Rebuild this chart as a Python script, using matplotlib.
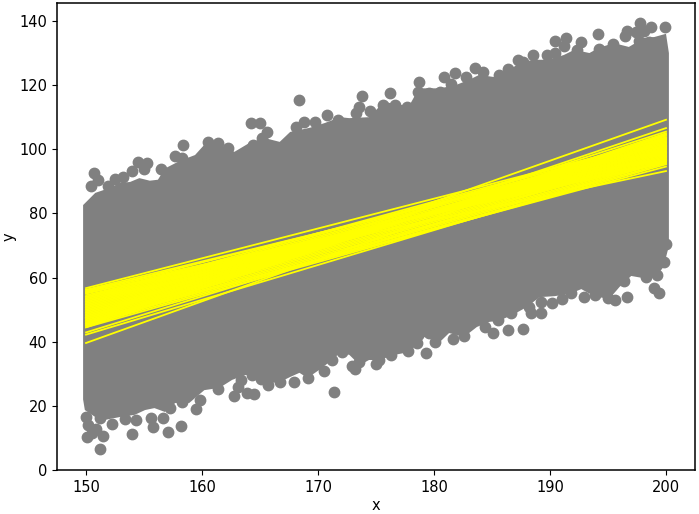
import matplotlib
matplotlib.use("Agg")
from matplotlib import pyplot as plt

# outermost points along the top of the cloud
top_x = [150.4, 150.7, 151.0, 151.9, 152.5, 153.2, 154.0, 154.5, 155.0, 155.3, 156.5, 157.7, 158.3, 158.4,
         160.5, 161.4, 162.2, 164.2, 164.4, 165.0, 165.2, 165.6, 168.1, 168.4, 168.8, 169.7, 170.8, 171.7,
         173.3, 173.5, 173.8, 174.5, 175.6, 176.2, 176.6, 177.7, 178.6, 178.7, 179.6, 180.5, 180.9, 181.5,
         181.8, 182.8, 183.5, 184.2, 185.6, 186.4, 187.2, 187.7, 188.5, 189.7, 190.4, 190.4, 191.2, 191.4,
         192.3, 192.7, 194.1, 194.2, 195.4, 196.5, 196.6, 197.4, 197.7, 197.8, 198.1, 198.5, 198.7, 199.9]
top_y = [88.6, 92.6, 90.4, 88.6, 90.7, 91.4, 93.2, 96.0, 93.9, 95.7, 93.9, 97.9, 97.3, 101.3,
         102.3, 102.0, 100.4, 108.2, 101.3, 108.2, 103.5, 105.4, 107.0, 115.4, 108.5, 108.5, 110.7, 109.1,
         111.3, 113.2, 116.6, 111.9, 113.8, 117.6, 113.8, 113.2, 117.9, 121.0, 117.6, 117.9, 122.5, 120.4,
         123.8, 122.5, 125.4, 124.1, 123.2, 125.0, 127.8, 127.2, 129.4, 129.4, 133.8, 130.0, 132.2, 134.7,
         131.0, 133.5, 136.0, 131.3, 132.8, 135.3, 136.9, 136.6, 133.8, 139.4, 136.9, 133.5, 138.1, 138.1]

# outermost points along the bottom of the cloud
bottom_x = [150.0, 150.2, 150.1, 150.5, 150.9, 151.2, 151.5, 151.2, 152.2, 153.4, 154.0, 154.3, 155.6, 155.8,
            156.6, 157.1, 157.2, 158.2, 158.3, 159.5, 159.8, 161.4, 162.8, 163.1, 163.4, 163.9, 164.5, 164.3,
            165.1, 165.7, 166.7, 167.9, 169.1, 170.5, 171.2, 171.4, 172.1, 172.9, 173.2, 173.5, 175.0, 175.3,
            176.3, 177.8, 178.5, 178.6, 179.3, 179.6, 180.1, 181.6, 182.6, 184.4, 185.1, 185.5, 186.4, 186.6,
            187.7, 188.2, 188.4, 189.2, 189.2, 190.2, 191.0, 191.8, 192.9, 193.9, 195.0, 195.6, 196.4, 196.6,
            198.3, 199.0, 199.2, 199.4, 199.8, 200.0]
bottom_y = [16.5, 14.0, 10.3, 11.5, 12.8, 6.5, 10.6, 16.2, 14.3, 15.9, 11.2, 15.6, 16.2, 13.4,
            16.2, 11.8, 19.3, 13.7, 21.2, 19.0, 21.8, 25.3, 23.1, 25.9, 28.1, 24.0, 23.7, 29.6,
            28.4, 26.5, 27.4, 27.4, 28.7, 30.9, 34.3, 24.3, 36.8, 32.4, 31.5, 33.7, 33.1, 34.3,
            35.9, 37.1, 39.6, 42.1, 36.5, 42.7, 39.9, 40.8, 41.8, 44.6, 42.7, 46.8, 43.7, 49.0,
            44.0, 50.8, 49.0, 52.4, 49.0, 52.1, 53.3, 55.2, 53.9, 54.6, 53.6, 53.0, 58.9, 53.9,
            60.2, 56.8, 60.8, 55.2, 64.9, 70.5]

# solid body of the cloud, upper and lower edge
upper_x = [149.75, 150.8, 152.1, 152.9, 153.8, 154.6, 155.5, 156.2, 156.8, 158.1, 159.4, 160.2, 161.5, 162.8,
           164.1, 165.4, 166.7, 167.6, 169.3, 170.6, 171.9, 172.7, 174.4, 175.7, 177.0, 177.9, 178.7, 180.5,
           181.8, 183.0, 183.9, 185.2, 186.5, 187.4, 188.6, 189.9, 191.2, 192.1, 193.4, 194.2, 195.5, 196.8,
           198.1, 199.0, 200.0, 200.25]
upper_y = [82.6, 86.4, 88.0, 89.5, 89.8, 91.0, 90.2, 90.5, 94.0, 96.4, 98.2, 101.4, 101.1, 99.2,
           102.0, 103.5, 102.3, 105.4, 106.7, 108.2, 110.0, 109.7, 110.0, 114.8, 113.8, 113.8, 119.0, 119.0,
           119.9, 121.6, 123.2, 122.5, 124.7, 127.0, 127.9, 127.9, 129.4, 131.0, 130.0, 131.6, 133.1, 131.9,
           134.7, 135.0, 136.0, 130.0]
lower_x = [149.75, 149.9, 150.8, 151.6, 152.9, 154.2, 155.1, 155.9, 156.8, 157.7, 158.9, 160.2, 161.5, 162.6,
           163.7, 164.8, 165.8, 166.7, 167.6, 168.4, 169.1, 170.1, 171.0, 171.9, 172.7, 173.6, 174.4, 175.3,
           176.6, 177.9, 178.6, 179.4, 180.5, 181.3, 182.6, 183.7, 184.8, 185.6, 186.9, 188.0, 189.1, 190.4,
           191.7, 192.7, 193.8, 195.1, 196.0, 197.0, 198.4, 199.2, 199.8, 200.25]
lower_y = [22.0, 18.7, 16.5, 15.6, 16.5, 17.2, 18.7, 19.3, 18.1, 20.9, 20.9, 24.9, 25.6, 28.1,
           29.6, 29.6, 27.1, 27.4, 29.0, 30.3, 28.7, 31.2, 33.7, 36.5, 35.9, 32.7, 34.3, 34.3,
           35.9, 36.8, 39.6, 42.1, 39.9, 42.7, 41.5, 44.6, 46.2, 46.5, 48.6, 50.8, 53.9, 54.2,
           54.9, 56.4, 54.2, 53.3, 57.1, 60.5, 59.6, 60.5, 63.4, 69.9]

# regression lines, value at x=150 and at x=200
line_x = [150, 200]
line_left = [39.6, 42.2, 42.9, 45.3, 45.6, 47.5, 56.7, 56.2, 55.6, 55.2, 46.0,
             44.5, 45.0, 45.5, 46.0, 46.5, 47.0, 47.5, 48.0, 48.5, 49.0, 49.5, 50.0, 50.5, 51.0, 51.5, 52.0,
             52.5, 53.0, 53.5, 54.0, 54.5, 55.0, 55.5, 56.0,
             44.5, 45.0, 45.5, 46.0, 46.5, 47.0, 47.5, 48.0, 48.5, 49.0, 49.5, 50.0, 50.5, 51.0, 51.5, 52.0,
             52.5, 53.0, 53.5, 54.0]
line_right = [104.5, 96.5, 99.0, 109.2, 106.6, 105.5, 103.2, 100.3, 101.1, 93.2, 94.6,
              105.0, 104.6, 104.2, 103.8, 103.4, 103.0, 102.6, 102.2, 101.8, 101.4, 101.0, 100.6, 100.2, 99.8, 99.4, 99.0,
              98.6, 98.2, 97.8, 97.4, 97.0, 96.6, 96.2, 95.8,
              95.3, 95.7, 96.2, 96.6, 97.0, 97.5, 97.9, 98.3, 98.7, 99.2, 99.6, 100.0, 100.5, 100.9, 101.3, 101.8,
              102.2, 102.6, 103.1, 103.5]

fig = plt.figure(figsize=(6.99, 5.14), dpi=100)
ax = fig.add_axes([57 / 699, 44 / 514, 638 / 699, 467 / 514])

ax.fill(upper_x + lower_x[::-1], upper_y + lower_y[::-1], color="gray", lw=0)
ax.scatter(top_x, top_y, color="gray", s=56)
ax.scatter(bottom_x, bottom_y, color="gray", s=56)
for left, right in zip(line_left, line_right):
    ax.plot(line_x, [left, right], color="yellow", lw=1.3)

ax.set_xlim(147.5, 202.5)
ax.set_ylim(0, 145.6)
ax.set_xticks([150, 160, 170, 180, 190, 200])
ax.set_yticks([0, 20, 40, 60, 80, 100, 120, 140])
ax.tick_params(labelsize=10.5)
for side in ax.spines.values():
    side.set_linewidth(1.1)
ax.set_xlabel("x", fontsize=10.5, labelpad=2)
ax.set_ylabel("y", fontsize=10.5, labelpad=2)
plt.savefig("out.png", dpi=100)
plt.close()
